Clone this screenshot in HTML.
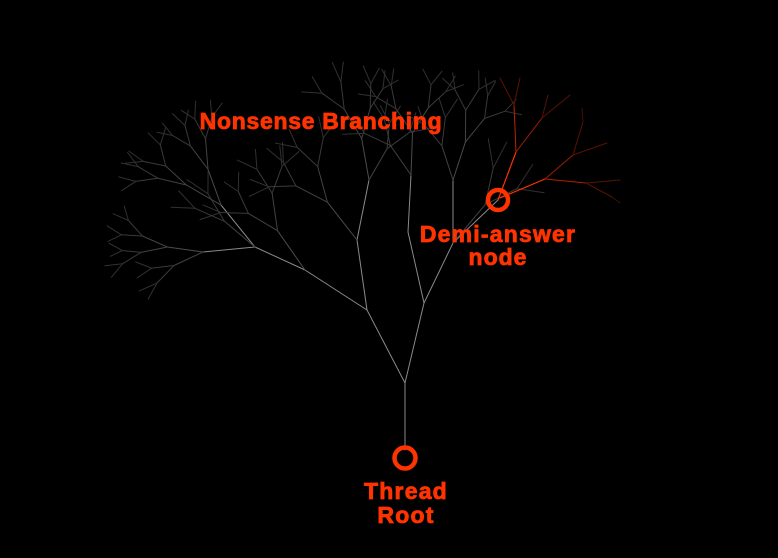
<!DOCTYPE html>
<html><head><meta charset="utf-8"><style>
html,body{margin:0;padding:0;background:#000;width:778px;height:558px;overflow:hidden}
svg{display:block}
text{font-family:"Liberation Sans",Arial,sans-serif;font-weight:bold;fill:#ff3300;font-size:23px;stroke:#ff3300;stroke-width:0.8}
</style></head><body>
<svg id="s" width="778" height="558" viewBox="0 0 778 558">
<g id="tree" fill="none" stroke-linecap="round"></g>
<g id="red" fill="none" stroke-linecap="round">
<line x1="498" y1="200" x2="516" y2="152" stroke="#ff3300" stroke-width="1.2"/>
<line x1="516" y1="152" x2="514" y2="105" stroke="#c02200" stroke-width="1"/>
<line x1="514" y1="105" x2="500" y2="78" stroke="#5a1200" stroke-width="1"/>
<line x1="514" y1="105" x2="520" y2="78" stroke="#5a1200" stroke-width="1"/>
<line x1="516" y1="152" x2="542" y2="118" stroke="#a01e00" stroke-width="1"/>
<line x1="542" y1="118" x2="548" y2="95" stroke="#5a1200" stroke-width="1"/>
<line x1="542" y1="118" x2="570" y2="95" stroke="#5a1200" stroke-width="1"/>
<line x1="500" y1="198" x2="545" y2="179" stroke="#ff3300" stroke-width="1.2"/>
<line x1="545" y1="179" x2="573" y2="155" stroke="#a01e00" stroke-width="1"/>
<line x1="573" y1="155" x2="583" y2="122" stroke="#5a1200" stroke-width="1"/>
<line x1="583" y1="122" x2="582" y2="108" stroke="#401000" stroke-width="1"/>
<line x1="573" y1="155" x2="607" y2="143" stroke="#5a1200" stroke-width="1"/>
<line x1="545" y1="179" x2="586" y2="183" stroke="#b02000" stroke-width="1"/>
<line x1="586" y1="183" x2="620" y2="180" stroke="#5a1200" stroke-width="1"/>
<line x1="586" y1="183" x2="612" y2="197" stroke="#5a1200" stroke-width="1"/>
<line x1="612" y1="197" x2="620" y2="203" stroke="#401000" stroke-width="1"/>
</g>
<circle cx="405" cy="458" r="10.5" fill="none" stroke="#ff3300" stroke-width="4.5"/>
<circle cx="498" cy="200" r="10" fill="none" stroke="#ff3300" stroke-width="4.5"/>
<text x="321" y="129" text-anchor="middle" letter-spacing="0.7">Nonsense Branching</text>
<text x="498" y="242" text-anchor="middle" letter-spacing="1.2">Demi-answer</text>
<text x="498" y="265" text-anchor="middle" letter-spacing="1">node</text>
<text x="406" y="499" text-anchor="middle" letter-spacing="1.2">Thread</text>
<text x="406" y="523" text-anchor="middle" letter-spacing="1.2">Root</text>
</svg>
<script>
(function(){
var g=document.getElementById('tree');var NS='http://www.w3.org/2000/svg';
var seed=11;function rnd(){seed=(seed*16807)%2147483647;return (seed-1)/2147483646;}
function L(x1,y1,x2,y2,c){var l=document.createElementNS(NS,'line');l.setAttribute('x1',x1);l.setAttribute('y1',y1);l.setAttribute('x2',x2);l.setAttribute('y2',y2);l.setAttribute('stroke',c);l.setAttribute('stroke-width','1');g.appendChild(l);}
var sk=[[405,450,405,383],[405,383,367,310],[405,383,424,303],[367,310,305,270],[305,270,255,247],[255,247,221,205],[255,247,203,252],[367,310,357,240],[357,240,369,180],[424,303,453,243],[453,243,498,200],[453,243,453,180],[424,303,408,232],[408,232,411,175]];
sk.forEach(function(s){L(s[0],s[1],s[2],s[3],'#8a8a8a');});
function grow(x,y,a,len,d){if(d<=0||len<6)return;var x2=x+len*Math.cos(a),y2=y-len*Math.sin(a);
if(y2<44){y2=44+rnd()*6;}
var v=Math.round(40+d*9);L(x.toFixed(1),y.toFixed(1),x2.toFixed(1),y2.toFixed(1),'rgb('+v+','+v+','+v+')');
var sp=0.3+rnd()*0.25;grow(x2,y2,a+sp+(rnd()-0.5)*0.2,len*(0.7+rnd()*0.12),d-1);grow(x2,y2,a-sp+(rnd()-0.5)*0.2,len*(0.7+rnd()*0.12),d-1);}
var D=Math.PI/180;
grow(221,205,150*D,40,4);grow(221,205,110*D,38,4);
grow(203,252,172*D,36,4);grow(203,252,205*D,32,3);
grow(305,270,125*D,48,4);grow(255,247,140*D,40,3);
grow(369,180,100*D,42,4);grow(369,180,60*D,36,3);grow(357,240,128*D,48,4);
grow(411,175,88*D,42,4);grow(411,175,125*D,36,3);
grow(453,180,72*D,40,4);grow(453,180,108*D,36,3);grow(453,243,50*D,50,3);
})();
</script>
</body></html>
